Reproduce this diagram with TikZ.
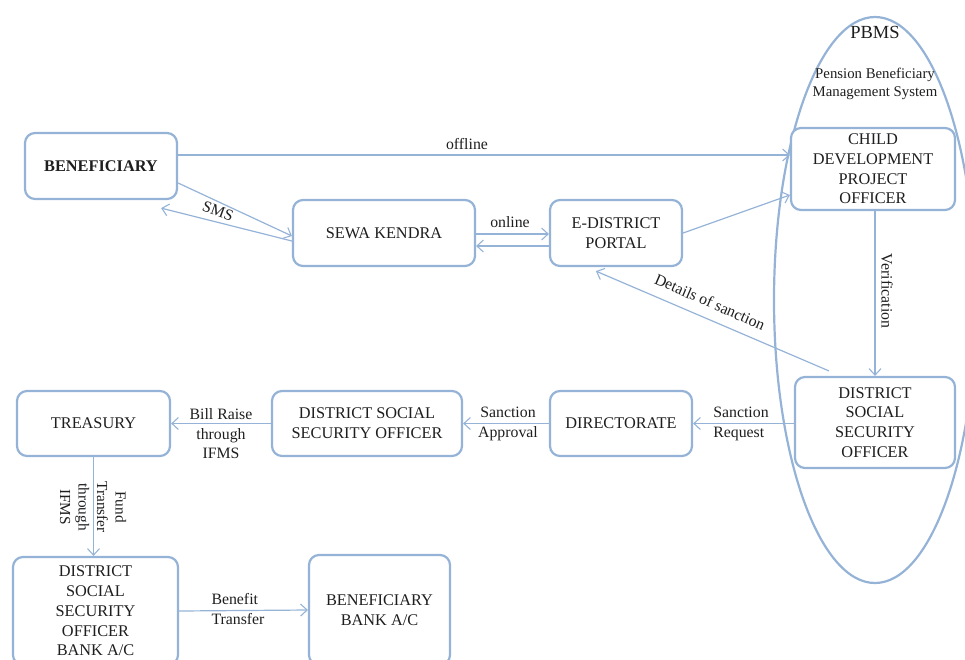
\documentclass[tikz,border=0pt]{standalone}
\usepackage{fontspec}
\setmainfont{Liberation Serif}
\usetikzlibrary{arrows.meta,calc}
\definecolor{boxc}{RGB}{149,179,215}
\definecolor{txt}{RGB}{30,30,30}
\tikzset{
  box/.style={draw=boxc, line width=2.2pt, rounded corners=10pt, fill=white, align=center, inner sep=0pt, text=txt, font=\fontsize{16.3}{19.7}\selectfont},
  conn/.style={draw=boxc, line width=1.2pt, -{Straight Barb[length=6.5pt,width=12pt,line width=1.1pt]}},
  lbl/.style={text=txt, font=\fontsize{15.8}{19.5}\selectfont, inner sep=0pt},
}
\begin{document}
\begin{tikzpicture}[x=1pt,y=-1pt]
\useasboundingbox (0,0) rectangle (965,659);
% PBMS ellipse
\draw[boxc, line width=2.2pt] (875,300) ellipse [x radius=101, y radius=283];
\node[lbl, font=\fontsize{18.5}{22}\selectfont] (pbms) at (875,32) {PBMS};
\node[lbl, align=center, font=\fontsize{14.8}{18}\selectfont] (pbmsfull) at (875,84) {Pension Beneficiary\\Management System};
% boxes
\node[box, minimum width=152, minimum height=66, font=\fontsize{16.3}{19.7}\bfseries] (ben) at (101,166) {BENEFICIARY};
\node[box, minimum width=182, minimum height=66] (sewa) at (384,233) {SEWA KENDRA};
\node[box, minimum width=132, minimum height=66] (edp) at (616,233) {E-DISTRICT\\PORTAL};
\node[box, minimum width=164, minimum height=82] (cdpo) at (873,169) {CHILD\\DEVELOPMENT\\PROJECT\\OFFICER};
\node[box, minimum width=160, minimum height=91] (dsso2) at (875,422.5) {DISTRICT\\SOCIAL\\SECURITY\\OFFICER};
\node[box, minimum width=142, minimum height=65] (dir) at (621,423.5) {DIRECTORATE};
\node[box, minimum width=190, minimum height=65] (dsso1) at (367,423.5) {DISTRICT SOCIAL\\SECURITY OFFICER};
\node[box, minimum width=153, minimum height=65] (tre) at (93.5,423.5) {TREASURY};
\node[box, minimum width=165, minimum height=108] (bank) at (95.5,611) {DISTRICT\\SOCIAL\\SECURITY\\OFFICER\\BANK A/C};
\node[box, minimum width=141, minimum height=110] (bb) at (379.5,610) {BENEFICIARY\\BANK A/C};
% connectors
\draw[conn] ($(ben.east)+(0,-11)$) -- ($(cdpo.west)+(0,-14)$);
\node[lbl] (loff) at (467,144) {offline};
\draw[conn] ($(ben.east)+(0,17)$) -- ($(sewa.west)+(0,3)$);
\draw[conn] ($(sewa.west)+(0,8)$) -- ($(ben.south east)+(-17,8)$);
\node[lbl, rotate=-20] (lsms) at (218,211) {SMS};
\draw[conn] ($(sewa.east)+(0,1)$) -- ($(edp.west)+(0,1)$);
\draw[conn] ($(edp.west)+(0,13)$) -- ($(sewa.east)+(0,13)$);
\node[lbl] (lon) at (510,222) {online};
\draw[conn] (edp.east) -- ($(cdpo.west)+(0,26)$);
\draw[conn] (cdpo.south -| dsso2.north) -- (dsso2.north);
\node[lbl, rotate=-90] (lver) at (887,291) {Verification};
\draw[conn] ($(dsso2.north west)+(35,-5)$) -- ($(edp.south west)+(47,4)$);
\node[lbl, rotate=-23.5] (ldet) at (710,302) {Details of sanction};
\draw[conn] (dsso2.west |- dir.east) -- (dir.east);
\node[lbl, align=left] (lreq) at (741,424) {Sanction\\Request};
\draw[conn] (dir.west) -- (dsso1.east);
\node[lbl, align=center] (lapp) at (508,424) {Sanction\\Approval};
\draw[conn] (dsso1.west) -- (tre.east);
\node[lbl, align=center] (lbill) at (221,434) {Bill Raise\\through\\IFMS};
\draw[conn] (tre.south) -- (tre.south |- bank.north);
\node[lbl, align=center, rotate=-90, font=\fontsize{15.3}{18.5}\selectfont] (lfund) at (93,507) {Fund\\Transfer\\through\\IFMS};
\draw[conn] (bank.east) -- (bb.west);
\node[lbl, align=left] (lben) at (238,609) {Benefit\\Transfer};
\end{tikzpicture}
\end{document}
